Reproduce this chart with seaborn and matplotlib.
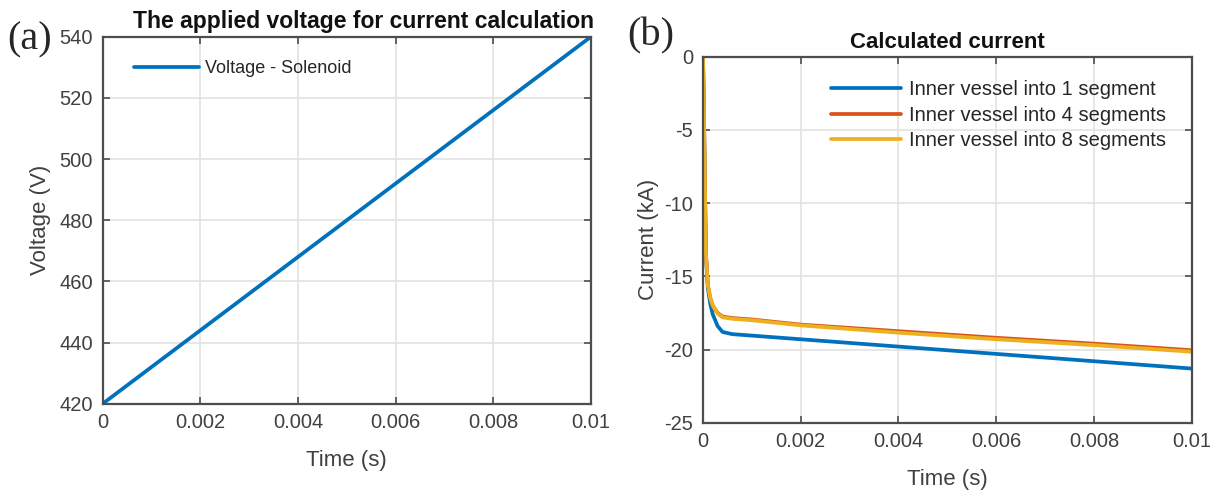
import pandas as pd
import seaborn as sns
import matplotlib.pyplot as plt

# applied voltage (left panel)
t_volt = [0.0, 0.01]
volt = [420, 540]

# calculated current (right panel), time in s, current in kA
t_cur = [0, 0.00002, 0.00004, 0.00006, 0.0001, 0.00015, 0.0002, 0.0003, 0.0004,
         0.0006, 0.001, 0.002, 0.004, 0.006, 0.008, 0.01]
cur_1seg = [0, -4, -9, -13.5, -15.8, -16.9, -17.6, -18.4, -18.8,
            -18.95, -19.05, -19.3, -19.8, -20.3, -20.8, -21.3]
cur_4seg = [0, -4, -9, -13.5, -15.6, -16.5, -17.0, -17.5, -17.75,
            -17.85, -17.95, -18.3, -18.75, -19.2, -19.6, -20.05]
cur_8seg = [0, -4, -9, -13.5, -15.6, -16.5, -17.0, -17.55, -17.8,
            -17.9, -18.0, -18.35, -18.85, -19.3, -19.7, -20.15]
seg_names = ['Inner vessel into 1 segment', 'Inner vessel into 4 segments',
             'Inner vessel into 8 segments']

sns.set_theme(style='white')
plt.rcParams['font.family'] = ['Liberation Sans', 'DejaVu Sans']
plt.rcParams['axes.unicode_minus'] = False

colors = ['#0072BD', '#D95319', '#EDB120']
axcol = '#4d4d4d'
txtcol = '#404040'

fig = plt.figure(figsize=(12.23, 4.94), dpi=100)
ax1 = fig.add_axes([0.084, 0.1828, 0.3992, 0.7429])
ax2 = fig.add_axes([0.5748, 0.1443, 0.3996, 0.7409])

df_v = pd.DataFrame({'t': t_volt, 'v': volt, 'name': 'Voltage - Solenoid'})
sns.lineplot(data=df_v, x='t', y='v', hue='name', palette=[colors[0]],
             lw=2.7, ax=ax1)

rows = []
for name, vals in zip(seg_names, [cur_1seg, cur_4seg, cur_8seg]):
    for t, c in zip(t_cur, vals):
        rows.append({'t': t, 'i': c, 'name': name})
df_c = pd.DataFrame(rows)
sns.lineplot(data=df_c, x='t', y='i', hue='name', hue_order=seg_names,
             palette=colors, lw=2.7, ax=ax2, estimator=None)

for ax in (ax1, ax2):
    ax.set_xlim(0, 0.01)
    ax.set_xticks([0, 0.002, 0.004, 0.006, 0.008, 0.01])
    ax.set_xticklabels(['0', '0.002', '0.004', '0.006', '0.008', '0.01'])
    ax.grid(True, color='#e3e3e3', lw=1.2)
    ax.tick_params(direction='in', length=5, width=1.2, color=axcol,
                   labelsize=14.5, labelcolor=txtcol, top=True, right=True,
                   bottom=True, left=True, pad=7)
    for s in ax.spines.values():
        s.set_color(axcol)
        s.set_linewidth(1.6)
    ax.set_xlabel('Time (s)', fontsize=16, color=txtcol, labelpad=13)

ax1.set_ylim(420, 540)
ax1.set_yticks(range(420, 541, 20))
ax1.set_ylabel('Voltage (V)', fontsize=16, color=txtcol, labelpad=6)
ax1.set_title('The applied voltage for current calculation', fontsize=16.5,
              fontweight='bold', color='#111111', pad=6, x=0.534)
ax1.legend(loc='upper left', frameon=False, fontsize=13, handlelength=3.6,
           handletextpad=0.35, bbox_to_anchor=(0.03, 0.98),
           labelcolor='#262626')

ax2.set_ylim(-25, 0)
ax2.set_yticks(range(-25, 1, 5))
ax2.set_ylabel('Current (kA)', fontsize=16, color=txtcol, labelpad=4)
ax2.set_title('Calculated current', fontsize=16, fontweight='bold',
              color='#111111', pad=6)
ax2.legend(loc='upper right', frameon=False, fontsize=14.5, handlelength=3.5,
           bbox_to_anchor=(0.985, 0.985), labelspacing=0.32, handletextpad=0.4,
           labelcolor='#262626')

fig.text(0.006, 0.92, '(a)', fontsize=29, family='Liberation Serif', va='center')
fig.text(0.513, 0.927, '(b)', fontsize=29, family='Liberation Serif', va='center')

fig.savefig('out.png', dpi=100)
